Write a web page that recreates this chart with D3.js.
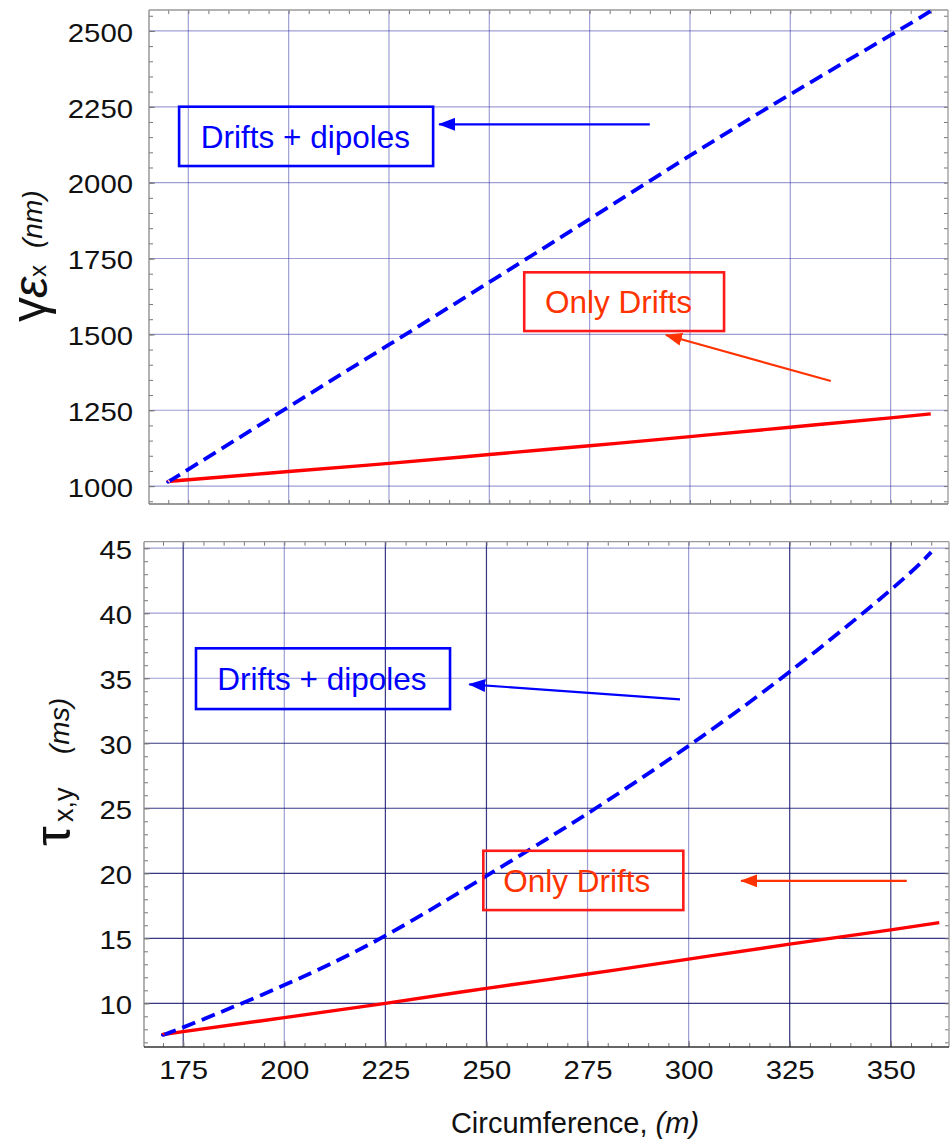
<!DOCTYPE html>
<html>
<head>
<meta charset="utf-8">
<script src="https://cdn.jsdelivr.net/npm/d3@7"></script>
<style>
  html, body { margin: 0; padding: 0; background: #fff; }
  svg { display: block; }
  text { font-family: "Liberation Sans", Arial, sans-serif; }
</style>
</head>
<body>
<svg id="chart" width="951" height="1146"></svg>
<script>
// Ring circumference (m) at which the curves are sampled
const circumference = [170, 175, 200, 225, 250, 275, 300, 325, 350, 360];
const circumferenceDriftsTau = [170, 175, 200, 225, 250, 275, 300, 325, 350, 362];

// Normalised horizontal emittance (nm)
const emittanceDipoles = [1015, 1055, 1261, 1466, 1672, 1880, 2089, 2291, 2486, 2566];
const emittanceDrifts  = [1015, 1021, 1048, 1075, 1104, 1133, 1163, 1194, 1225, 1238];

// Damping time (ms)
const dampingDipoles = [7.6, 8.15, 11.4, 15.2, 19.8, 24.6, 29.8, 35.5, 41.8, 44.7];
const dampingDrifts  = [7.6, 7.82, 8.9, 10.0, 11.15, 12.25, 13.4, 14.55, 15.65, 16.2];

// Tick values
const xTicks = [175, 200, 225, 250, 275, 300, 325, 350];
const emittanceTicks = [1000, 1250, 1500, 1750, 2000, 2250, 2500];
const dampingTicks = [10, 15, 20, 25, 30, 35, 40, 45];

// Annotation labels
const labelDipoles = "Drifts + dipoles";
const labelDrifts = "Only Drifts";

const svg = d3.select("#chart");
svg.append("rect").attr("width", 951).attr("height", 1146).attr("fill", "#fff");

const BLUE = "#0000ff", RED = "#ff0000", ORANGE = "#ff3300", BOXRED = "#ff1a1a";
const LABEL_STRETCH = 1.15;

// Arrow heads
const defs = svg.append("defs");
[["headBlue", BLUE], ["headRed", ORANGE]].forEach(([id, c]) => {
  defs.append("marker")
    .attr("id", id).attr("viewBox", "0 0 17 13")
    .attr("markerUnits", "userSpaceOnUse")
    .attr("markerWidth", 17).attr("markerHeight", 13)
    .attr("refX", 16).attr("refY", 6.5).attr("orient", "auto")
    .append("path").attr("d", "M0,0 L17,6.5 L0,13 Z").attr("fill", c);
});

function panel(cfg) {
  const { left, right, top, bottom, xDomain, yDomain, yTicks, yMinorStep, id } = cfg;
  const x = d3.scaleLinear().domain(xDomain).range([left, right]);
  const y = d3.scaleLinear().domain(yDomain).range([bottom, top]);
  const g = svg.append("g");

  defs.append("clipPath").attr("id", id)
    .append("rect").attr("x", left).attr("y", top)
    .attr("width", right - left).attr("height", bottom - top);

  // grid
  const grid = g.append("g");
  grid.selectAll("line.v").data(xTicks).join("line").attr("class", "v")
    .attr("x1", d => x(d)).attr("x2", d => x(d)).attr("y1", top).attr("y2", bottom)
    .attr("stroke", d => cfg.gridColorX(d)).attr("stroke-width", 1.2);
  grid.selectAll("line.h").data(yTicks).join("line").attr("class", "h")
    .attr("y1", d => y(d)).attr("y2", d => y(d)).attr("x1", left).attr("x2", right)
    .attr("stroke", d => cfg.gridColorY(d)).attr("stroke-width", 1.2);

  // minor ticks on all four frame edges (drawn inward)
  const xMinor = d3.range(170, xDomain[1], 5);
  const yMinor = d3.range(Math.ceil(yDomain[0] / yMinorStep) * yMinorStep, yDomain[1], yMinorStep);
  const tickStyle = s => s.call(a => a.select(".domain").remove())
    .call(a => a.selectAll("line").attr("stroke", "#777"));

  g.append("g").attr("transform", `translate(0,${bottom})`)
    .call(d3.axisBottom(x).tickValues(xMinor).tickSize(-4).tickFormat("")).call(tickStyle);
  g.append("g").attr("transform", `translate(0,${top})`)
    .call(d3.axisTop(x).tickValues(xMinor).tickSize(-4).tickFormat("")).call(tickStyle);
  g.append("g").attr("transform", `translate(${left},0)`)
    .call(d3.axisLeft(y).tickValues(yMinor).tickSize(-4).tickFormat("")).call(tickStyle);
  g.append("g").attr("transform", `translate(${right},0)`)
    .call(d3.axisRight(y).tickValues(yMinor).tickSize(-4).tickFormat("")).call(tickStyle);

  // y tick labels
  const yAx = g.append("g").attr("transform", `translate(${left},0)`)
    .call(d3.axisLeft(y).tickValues(yTicks).tickSize(-6).tickPadding(cfg.yPad).tickFormat(d3.format("d")))
    .call(tickStyle);
  yAx.selectAll("text")
    .attr("font-size", 25.5).attr("fill", "#111").attr("dy", "0.4em")
    .attr("x", -cfg.yPad / LABEL_STRETCH)
    .attr("transform", `scale(${LABEL_STRETCH},1)`);

  // x tick labels (lower panel only)
  if (cfg.xLabels) {
    const xAx = g.append("g").attr("transform", `translate(0,${bottom})`)
      .call(d3.axisBottom(x).tickValues(xTicks).tickSize(-6).tickPadding(13.5).tickFormat(d3.format("d")))
      .call(tickStyle);
    xAx.selectAll("text").attr("font-size", 25.5).attr("fill", "#111")
      .attr("transform", `scale(${LABEL_STRETCH},1)`);
  }

  // frame
  const edge = (x1, y1, x2, y2, c) => g.append("line")
    .attr("x1", x1).attr("y1", y1).attr("x2", x2).attr("y2", y2)
    .attr("stroke", c).attr("stroke-width", 1.3);
  edge(left, top, right, top, "#999");
  edge(right, top, right, bottom, "#999");
  edge(left, top, left, bottom, "#888");
  edge(left, bottom, right, bottom, cfg.bottomFrame);

  return { x, y, g };
}

function curves(p, xsA, ysA, xsB, ysB, id) {
  const line = d3.line().x(d => p.x(d[0])).y(d => p.y(d[1])).curve(d3.curveNatural);
  const lines = p.g.append("g").attr("clip-path", `url(#${id})`);
  lines.append("path").datum(d3.zip(xsB, ysB))
    .attr("d", line).attr("fill", "none").attr("stroke", RED).attr("stroke-width", 3.4);
  lines.append("path").datum(d3.zip(xsA, ysA))
    .attr("d", line).attr("fill", "none").attr("stroke", BLUE).attr("stroke-width", 3.8)
    .attr("stroke-dasharray", "14,7");
}

function callout(p, box, text, arrow, color, boxColor, textColor, head) {
  const { x, y, g } = p;
  g.append("rect")
    .attr("x", x(box[0])).attr("y", y(box[3]))
    .attr("width", x(box[1]) - x(box[0])).attr("height", y(box[2]) - y(box[3]))
    .attr("fill", "none").attr("stroke", boxColor).attr("stroke-width", 2.6);
  g.append("text").attr("x", x(text.at[0])).attr("y", y(text.at[1]))
    .attr("font-size", 31.5).attr("fill", textColor).text(text.label);
  g.append("line")
    .attr("x1", x(arrow[0][0])).attr("y1", y(arrow[0][1]))
    .attr("x2", x(arrow[1][0])).attr("y2", y(arrow[1][1]))
    .attr("stroke", color).attr("stroke-width", 2.2)
    .attr("marker-end", `url(#${head})`);
}

const light = "rgba(40,40,160,0.45)";
const dark = "rgba(20,20,110,0.85)";

// ---- upper panel: emittance ----
const upper = panel({
  id: "clipUpper", left: 149, right: 948, top: 10, bottom: 504,
  xDomain: [165.2, 364.3], yDomain: [941, 2569],
  yTicks: emittanceTicks, yMinorStep: 50, yPad: 16,
  gridColorX: () => light, gridColorY: () => light,
  bottomFrame: "#777", xLabels: false
});
curves(upper, circumference, emittanceDipoles, circumference, emittanceDrifts, "clipUpper");
callout(upper, [172.7, 236.0, 2054.8, 2250.3], { at: [178.1, 2115.2], label: labelDipoles },
  [[290.0, 2192.3], [237.5, 2192.3]], BLUE, BLUE, BLUE, "headBlue");
callout(upper, [258.7, 308.5, 1511.0, 1704.5], { at: [263.9, 1569.3], label: labelDrifts },
  [[335.1, 1346.2], [294.0, 1497.8]], ORANGE, BOXRED, ORANGE, "headRed");

// ---- lower panel: damping time ----
const darkX = new Set([175, 225, 250, 325, 350]);
const lower = panel({
  id: "clipLower", left: 144, right: 949, top: 541.7, bottom: 1047,
  xDomain: [165.3, 364.4], yDomain: [6.64, 45.5],
  yTicks: dampingTicks, yMinorStep: 1, yPad: 12,
  gridColorX: d => darkX.has(d) ? dark : light,
  gridColorY: d => d <= 30 ? dark : light,
  bottomFrame: "#333", xLabels: true
});
curves(lower, circumference, dampingDipoles, circumferenceDriftsTau, dampingDrifts, "clipLower");
callout(lower, [178.16, 240.99, 32.63, 37.30], { at: [183.43, 34.09], label: labelDipoles },
  [[297.87, 33.38], [245.76, 34.53]], BLUE, BLUE, BLUE, "headBlue");
callout(lower, [249.22, 298.69, 17.17, 21.73], { at: [254.17, 18.58], label: labelDrifts },
  [[353.95, 19.42], [313.0, 19.42]], ORANGE, BOXRED, ORANGE, "headRed");

// ---- axis titles ----
function rotated(xp, yp, str, size, opts = {}) {
  return svg.append("text")
    .attr("transform", `translate(${xp},${yp}) rotate(-90)`)
    .attr("font-size", size)
    .attr("font-family", opts.family || null)
    .attr("font-style", opts.italic ? "italic" : null)
    .attr("fill", "#111")
    .text(str);
}
const serif = "'Liberation Serif', 'DejaVu Serif', serif";
rotated(46, 322, "γ", 50, { family: serif });
rotated(47, 298, "ε", 48, { family: serif, italic: true });
rotated(46, 277, "x", 24);
rotated(42, 248, "(nm)", 28, { italic: true });

rotated(70, 846, "τ", 50, { family: serif });
rotated(73, 822, "x,y", 27);
rotated(69, 754, "(ms)", 28, { italic: true });

const xt = svg.append("text").attr("x", 575).attr("y", 1133).attr("text-anchor", "middle")
  .attr("font-size", 29).attr("fill", "#111");
xt.append("tspan").text("Circumference, ");
xt.append("tspan").attr("font-style", "italic").text("(m)");
</script>
</body>
</html>
